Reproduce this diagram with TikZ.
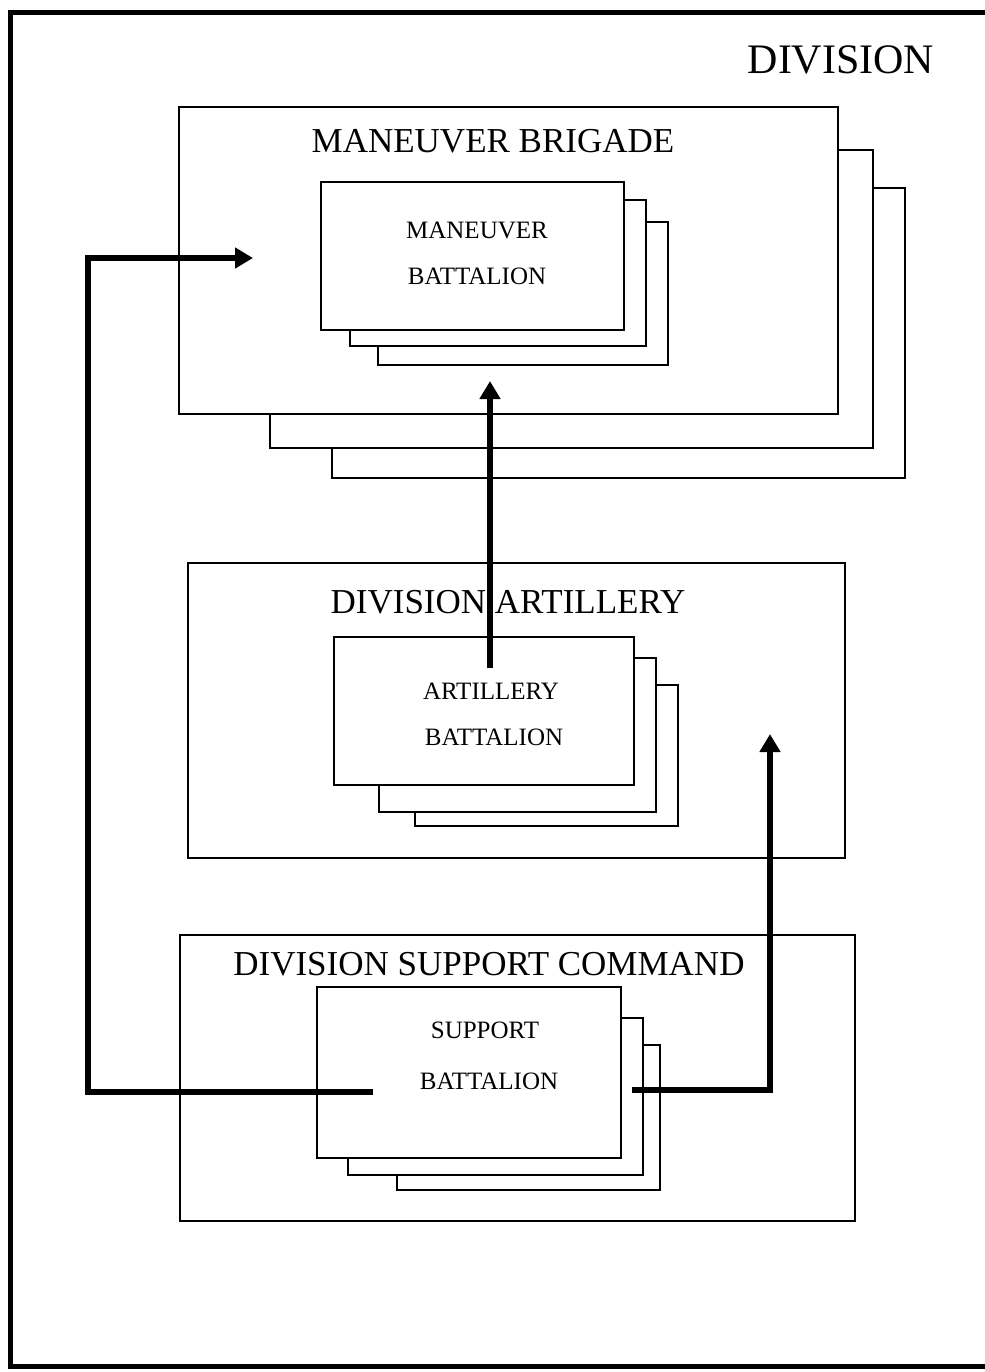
\documentclass[tikz,border=0pt]{standalone}
\usepackage{fontspec}
\setmainfont{Liberation Serif}
\usetikzlibrary{arrows.meta,fit}
\begin{document}
\begin{tikzpicture}[x=0.5pt,y=-0.5pt,
  boxs/.style={draw, line width=0.8pt, fill=white, inner sep=0pt},
  conn/.style={line width=3pt, -{Triangle[length=9pt,width=10pt]}},
  head/.style={font=\fontsize{17.5}{20}\selectfont, inner sep=0pt},
  sub/.style={font=\fontsize{12.5}{14}\selectfont, inner sep=0pt}]
\useasboundingbox (0,0) rectangle (985,1372);
% outer frame (right side beyond the page)
\draw[line width=2.5pt] (1000,12) -- (10,12) -- (10,1366) -- (1000,1366);
\node[font=\fontsize{21}{23}\selectfont, inner sep=0pt] (div) at (841,60) {DIVISION};

% maneuver brigade stack
\node[boxs, fit={(332,188) (905,478)}] (mb3) {};
\node[boxs, fit={(270,150) (873,448)}] (mb2) {};
\node[boxs, fit={(179,107) (838,414)}] (mb1) {};
\node[head] (mbt) at (493,141) {MANEUVER BRIGADE};
% maneuver battalion stack
\node[boxs, fit={(378,222) (668,365)}] (mn3) {};
\node[boxs, fit={(350,200) (646,346)}] (mn2) {};
\node[boxs, fit={(321,182) (624,330)}] (mn1) {};
\node[sub] (mnt1) at (477,230) {MANEUVER};
\node[sub] (mnt2) at (477,276) {BATTALION};

% division artillery
\node[boxs, fit={(188,563) (845,858)}] (da) {};
\node[head] (dat) at (508,602) {DIVISION ARTILLERY};
\node[boxs, fit={(415,685) (678,826)}] (ab3) {};
\node[boxs, fit={(379,658) (656,812)}] (ab2) {};
\node[boxs, fit={(334,637) (634,785)}] (ab1) {};
\node[sub] (abt1) at (491,691) {ARTILLERY};
\node[sub] (abt2) at (494,737) {BATTALION};

% division support command
\node[boxs, fit={(180,935) (855,1221)}] (dsc) {};
\node[head] (dsct) at (489,964) {DIVISION SUPPORT COMMAND};
\node[boxs, fit={(397,1045) (660,1190)}] (sb3) {};
\node[boxs, fit={(348,1018) (643,1175)}] (sb2) {};
\node[boxs, fit={(317,987) (621,1158)}] (sb1) {};
\node[sub] (sbt1) at (485,1030) {SUPPORT};
\node[sub] (sbt2) at (489,1081) {BATTALION};

% connectors
\coordinate (s1) at (373,1092);
\coordinate (k1) at (88,258);
\coordinate (t1) at (253,258);
\draw[conn] (s1) -| (k1) -- (t1);
\coordinate (s2) at (490,668);
\coordinate (t2) at (490,381);
\draw[conn] (s2) -- (t2);
\coordinate (s3) at (632,1090);
\coordinate (t3) at (770,734);
\draw[conn] (s3) -| (t3);
\end{tikzpicture}
\end{document}
